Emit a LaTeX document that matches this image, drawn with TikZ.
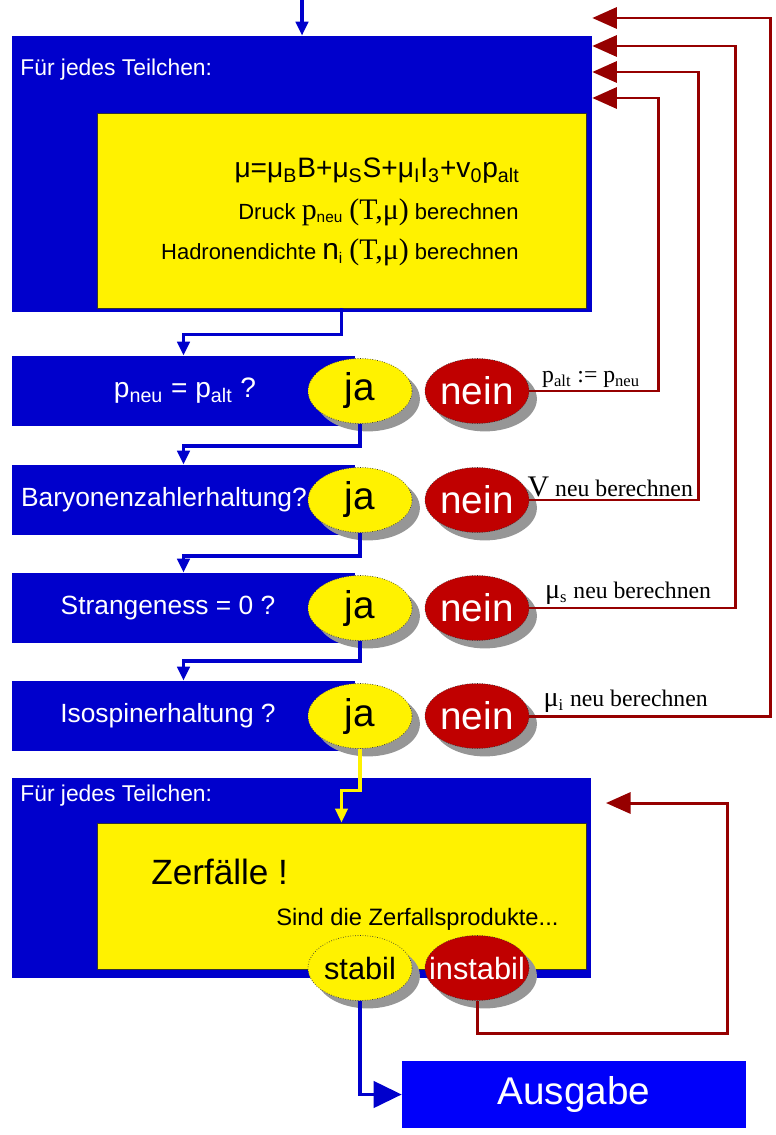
\documentclass[tikz,border=0pt]{standalone}
\usepackage{fontspec}
\setmainfont{Liberation Sans}
\newfontfamily\serifmu{Liberation Serif}
\usetikzlibrary{arrows.meta, positioning, shapes.geometric, shadows}

\definecolor{boxblue}{RGB}{0,0,204}
\definecolor{outblue}{RGB}{0,0,250}
\definecolor{nored}{RGB}{192,0,0}
\definecolor{backred}{RGB}{150,0,0}
\definecolor{shadowgray}{RGB}{150,150,150}

\newcommand{\idx}[1]{\textsubscript{#1}}
\newcommand{\sz}[2]{{\fontsize{#1}{#1}\selectfont #2}}

\tikzset{
  outerbox/.style={fill=boxblue, minimum width=11.6cm, inner sep=0pt},
  yellowbox/.style={fill=yellow, draw=black!80, line width=0.5pt, minimum width=9.78cm, inner sep=0pt},
  rowbox/.style={fill=boxblue, minimum width=6.86cm, minimum height=1.4cm, inner sep=0pt},
  rowtext/.style={text=white, font=\fontsize{15}{18}\selectfont, inner sep=0pt},
  boxtitle/.style={text=white, font=\fontsize{13}{15}\selectfont, inner sep=0pt, anchor=west},
  calctext/.style={font=\fontsize{12.5}{15}\selectfont, inner sep=0pt, anchor=east},
  oval/.style={ellipse, minimum width=2.08cm, minimum height=1.3cm, inner sep=0pt,
    draw=black!80, densely dotted, font=\fontsize{22}{24}\selectfont,
    drop shadow={shadow xshift=4.5pt, shadow yshift=-4.5pt, fill=shadowgray, opacity=1}},
  jaoval/.style={oval, fill=yellow},
  neinoval/.style={oval, fill=nored, text=white},
  ausgabebox/.style={fill=outblue, text=white, minimum width=6.88cm, minimum height=1.34cm,
    font=\fontsize{22}{24}\selectfont},
  flow/.style={draw=boxblue, line width=2pt, -{Triangle[length=8pt, width=7pt]}},
  yellowflow/.style={draw=yellow, line width=1.8pt, -{Triangle[length=8pt, width=7pt]}},
  back/.style={draw=backred, line width=1.7pt, -{Triangle[length=14pt, width=12pt]}},
  backlabel/.style={font=\serifmu\fontsize{13.5}{15}\selectfont, inner sep=1pt, text=black}
}

\begin{document}
\begin{tikzpicture}[x=0.02cm, y=-0.02cm]
\useasboundingbox (0,0) rectangle (776,1135);

% Schleife ueber alle Teilchen
\node[outerbox, minimum height=5.52cm] (teil1) at (302,174) {};
\node[yellowbox, minimum height=3.9cm] (calc) at (341.5,210.5) {};
\node[boxtitle] (title1) at (20,70) {Für jedes Teilchen:};
\node[calctext, font=\fontsize{16}{18}\selectfont] (mu) at (520,171)
  {μ=μ\idx{B}B+μ\idx{S}S+μ\idx{I}I\idx{3}+v\idx{0}p\idx{alt}};
\node[calctext] (druck) at (519,212)
  {Druck \sz{17}{\serifmu p}\idx{neu} \sz{17}{\serifmu (T,μ)} berechnen};
\node[calctext] (dichte) at (519,252)
  {Hadronendichte \sz{17}{n}\idx{i} \sz{17}{\serifmu (T,μ)} berechnen};

\coordinate (start) at (302,0);
\draw[flow] (start) -- (teil1.north);

% Abfragen
\node[rowbox] (frage1) at (183.5,391) {};
\node[rowtext, font=\fontsize{16}{18}\selectfont] (frage1text) at (185,391) {p\idx{neu} = p\idx{alt} ?};
\node[jaoval] (ja1) at (360,391) {ja};
\node[neinoval] (nein1) at (477,391) {nein};

\node[rowbox] (frage2) at (183.5,500) {};
\node[rowtext] (frage2text) at (164,500) {Baryonenzahlerhaltung?};
\node[jaoval] (ja2) at (360,500) {ja};
\node[neinoval] (nein2) at (477,500) {nein};

\node[rowbox] (frage3) at (183.5,608) {};
\node[rowtext] (frage3text) at (168,608) {Strangeness = 0 ?};
\node[jaoval] (ja3) at (360,608) {ja};
\node[neinoval] (nein3) at (477,608) {nein};

\node[rowbox] (frage4) at (183.5,716) {};
\node[rowtext] (frage4text) at (168,716) {Isospinerhaltung ?};
\node[jaoval] (ja4) at (360,716) {ja};
\node[neinoval] (nein4) at (477,716) {nein};

\draw[flow] (calc.south) -- ++(0,26) -| (frage1.north);
\draw[flow] (ja1.south) -- ++(0,22) -| (frage2.north);
\draw[flow] (ja2.south) -- ++(0,23) -| (frage3.north);
\draw[flow] (ja3.south) -- ++(0,20) -| (frage4.north);

% Rueckkopplung
\coordinate (ecke1) at (658,98);
\coordinate (ecke2) at (698,72);
\coordinate (ecke3) at (735,46);
\coordinate (ecke4) at (770,18);
\draw[back] (nein1.east) -| node[pos=0.24, above, backlabel] {p\idx{alt} := p\idx{neu}} (ecke1) -- (teil1.east |- ecke1);
\draw[back] (nein2.east) -| node[pos=0.24, above, backlabel] {\sz{17}{V} neu berechnen} (ecke2) -- (teil1.east |- ecke2);
\draw[back] (nein3.east) -| node[pos=0.24, above, backlabel] {\sz{16}{μ}\idx{s} neu berechnen} (ecke3) -- (teil1.east |- ecke3);
\draw[back] (nein4.east) -| node[pos=0.2, above, backlabel] {\sz{16}{μ}\idx{i} neu berechnen} (ecke4) -- (teil1.east |- ecke4);

% Zerfaelle
\node[outerbox, minimum height=4cm] (teil2) at (301.5,878) {};
\node[yellowbox, minimum height=2.92cm] (zerf) at (341.5,896) {};
\node[boxtitle] (title2) at (20,796) {Für jedes Teilchen:};
\node[anchor=west, inner sep=0pt, font=\fontsize{20}{22}\selectfont] (zerfaelle) at (151,872) {Zerfälle !};
\node[anchor=west, inner sep=0pt, font=\fontsize{13.5}{15}\selectfont] (produkte) at (276,919) {Sind die Zerfallsprodukte...};
\draw[yellowflow] (ja4.south) -- ++(0,42) -| (zerf.north);

\node[jaoval, font=\fontsize{17.5}{19}\selectfont] (stabil) at (360,968) {stabil};
\node[neinoval, font=\fontsize{17.5}{19}\selectfont, inner xsep=-6.5pt] (instabil) at (477,968) {instabil};

\node[ausgabebox] (ausgabe) at (574,1094.5) {Ausgabe};
\draw[flow, -{Triangle[length=16pt, width=15pt]}] (stabil.south) |- (ausgabe.west);

\coordinate (ecke5) at (727,803);
\coordinate (ziel5) at (606,803);
\draw[back] (instabil.south) -- ++(0,33) -| (ecke5) -- (ziel5);
\end{tikzpicture}
\end{document}
